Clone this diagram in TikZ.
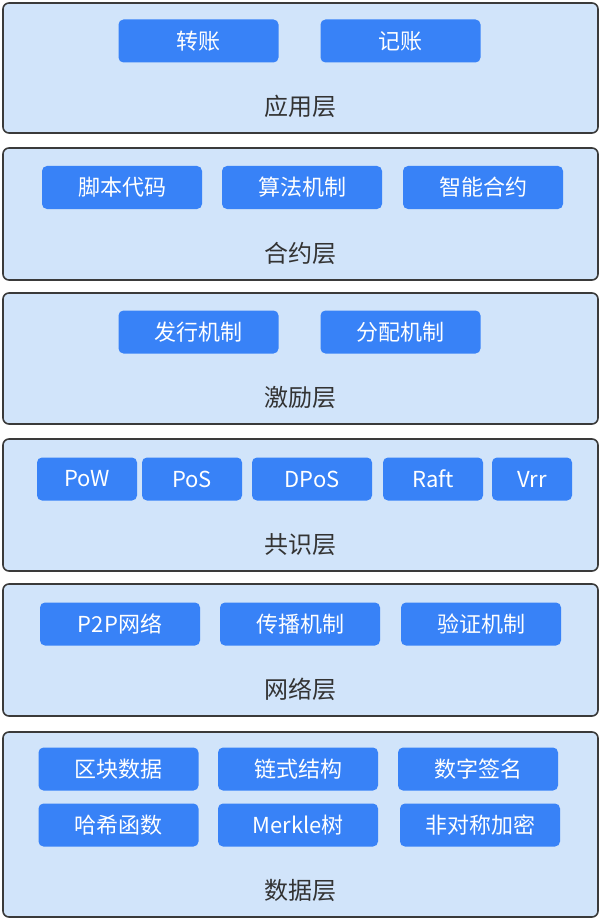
\documentclass[tikz,border=0pt]{standalone}
\usepackage{fontspec}
\setmainfont{Noto Sans CJK SC}
\definecolor{layerfill}{HTML}{D1E4FA}
\definecolor{btnfill}{HTML}{3882F7}
\definecolor{edgegray}{HTML}{3A3A3A}
\definecolor{labelgray}{HTML}{333333}

\begin{document}
\begin{tikzpicture}[
  x=1pt, y=-1pt,
  layer/.style={draw=edgegray, line width=1.6pt, rounded corners=6pt, fill=layerfill, minimum width=595pt, inner sep=0pt},
  btn/.style={fill=btnfill, rounded corners=5pt, minimum width=160pt, minimum height=43pt, inner sep=0pt, text=white, font=\fontsize{22}{22}\selectfont},
  lbl/.style={text=labelgray, font=\fontsize{24}{24}\selectfont},
]
  \useasboundingbox (0,0) rectangle (602,920);

  % Layers
  \node[layer, minimum height=130pt] (app) at (300.5,68) {};
  \node[layer, minimum height=132pt] (contract) at (300.5,214) {};
  \node[layer, minimum height=131pt] (incentive) at (300.5,358.5) {};
  \node[layer, minimum height=132pt] (consensus) at (300.5,505) {};
  \node[layer, minimum height=132pt] (network) at (300.5,650) {};
  \node[layer, minimum height=185pt] (data) at (300.5,824.5) {};

  % Layer names
  \node[lbl] (appname) at ([yshift=27pt]app.south) {应用层};
  \node[lbl] (contractname) at ([yshift=27pt]contract.south) {合约层};
  \node[lbl] (incentivename) at ([yshift=27pt]incentive.south) {激励层};
  \node[lbl] (consensusname) at ([yshift=27pt]consensus.south) {共识层};
  \node[lbl] (networkname) at ([yshift=27pt]network.south) {网络层};
  \node[lbl] (dataname) at ([yshift=27pt]data.south) {数据层};

  % Application
  \node[btn] (transfer) at (198.5,41) {转账};
  \node[btn] (bookkeep) at (400.5,41) {记账};

  % Contract
  \node[btn] (script) at (122,187.5) {脚本代码};
  \node[btn] (algo) at (302,187.5) {算法机制};
  \node[btn] (smart) at (483,187.5) {智能合约};

  % Incentive
  \node[btn] (issue) at (198.5,332) {发行机制};
  \node[btn] (alloc) at (400.5,332) {分配机制};

  % Consensus
  \node[btn, minimum width=100pt] (pow) at (87,479) {PoW};
  \node[btn, minimum width=100pt] (pos) at (192,479) {PoS};
  \node[btn, minimum width=120pt] (dpos) at (312,479) {DPoS};
  \node[btn, minimum width=100pt] (raft) at (433,479) {Raft};
  \node[btn, minimum width=80pt] (vrr) at (532,479) {Vrr};

  % Network
  \node[btn] (ptp) at (120,624) {P2P网络};
  \node[btn] (spread) at (300,624) {传播机制};
  \node[btn] (verify) at (481,624) {验证机制};

  % Data
  \node[btn] (block) at (118.5,769) {区块数据};
  \node[btn] (chain) at (298,769) {链式结构};
  \node[btn] (sign) at (478,769) {数字签名};
  \node[btn] (hash) at (118.5,825) {哈希函数};
  \node[btn] (merkle) at (298,825) {Merkle树};
  \node[btn] (asym) at (480,825) {非对称加密};

\end{tikzpicture}
\end{document}
